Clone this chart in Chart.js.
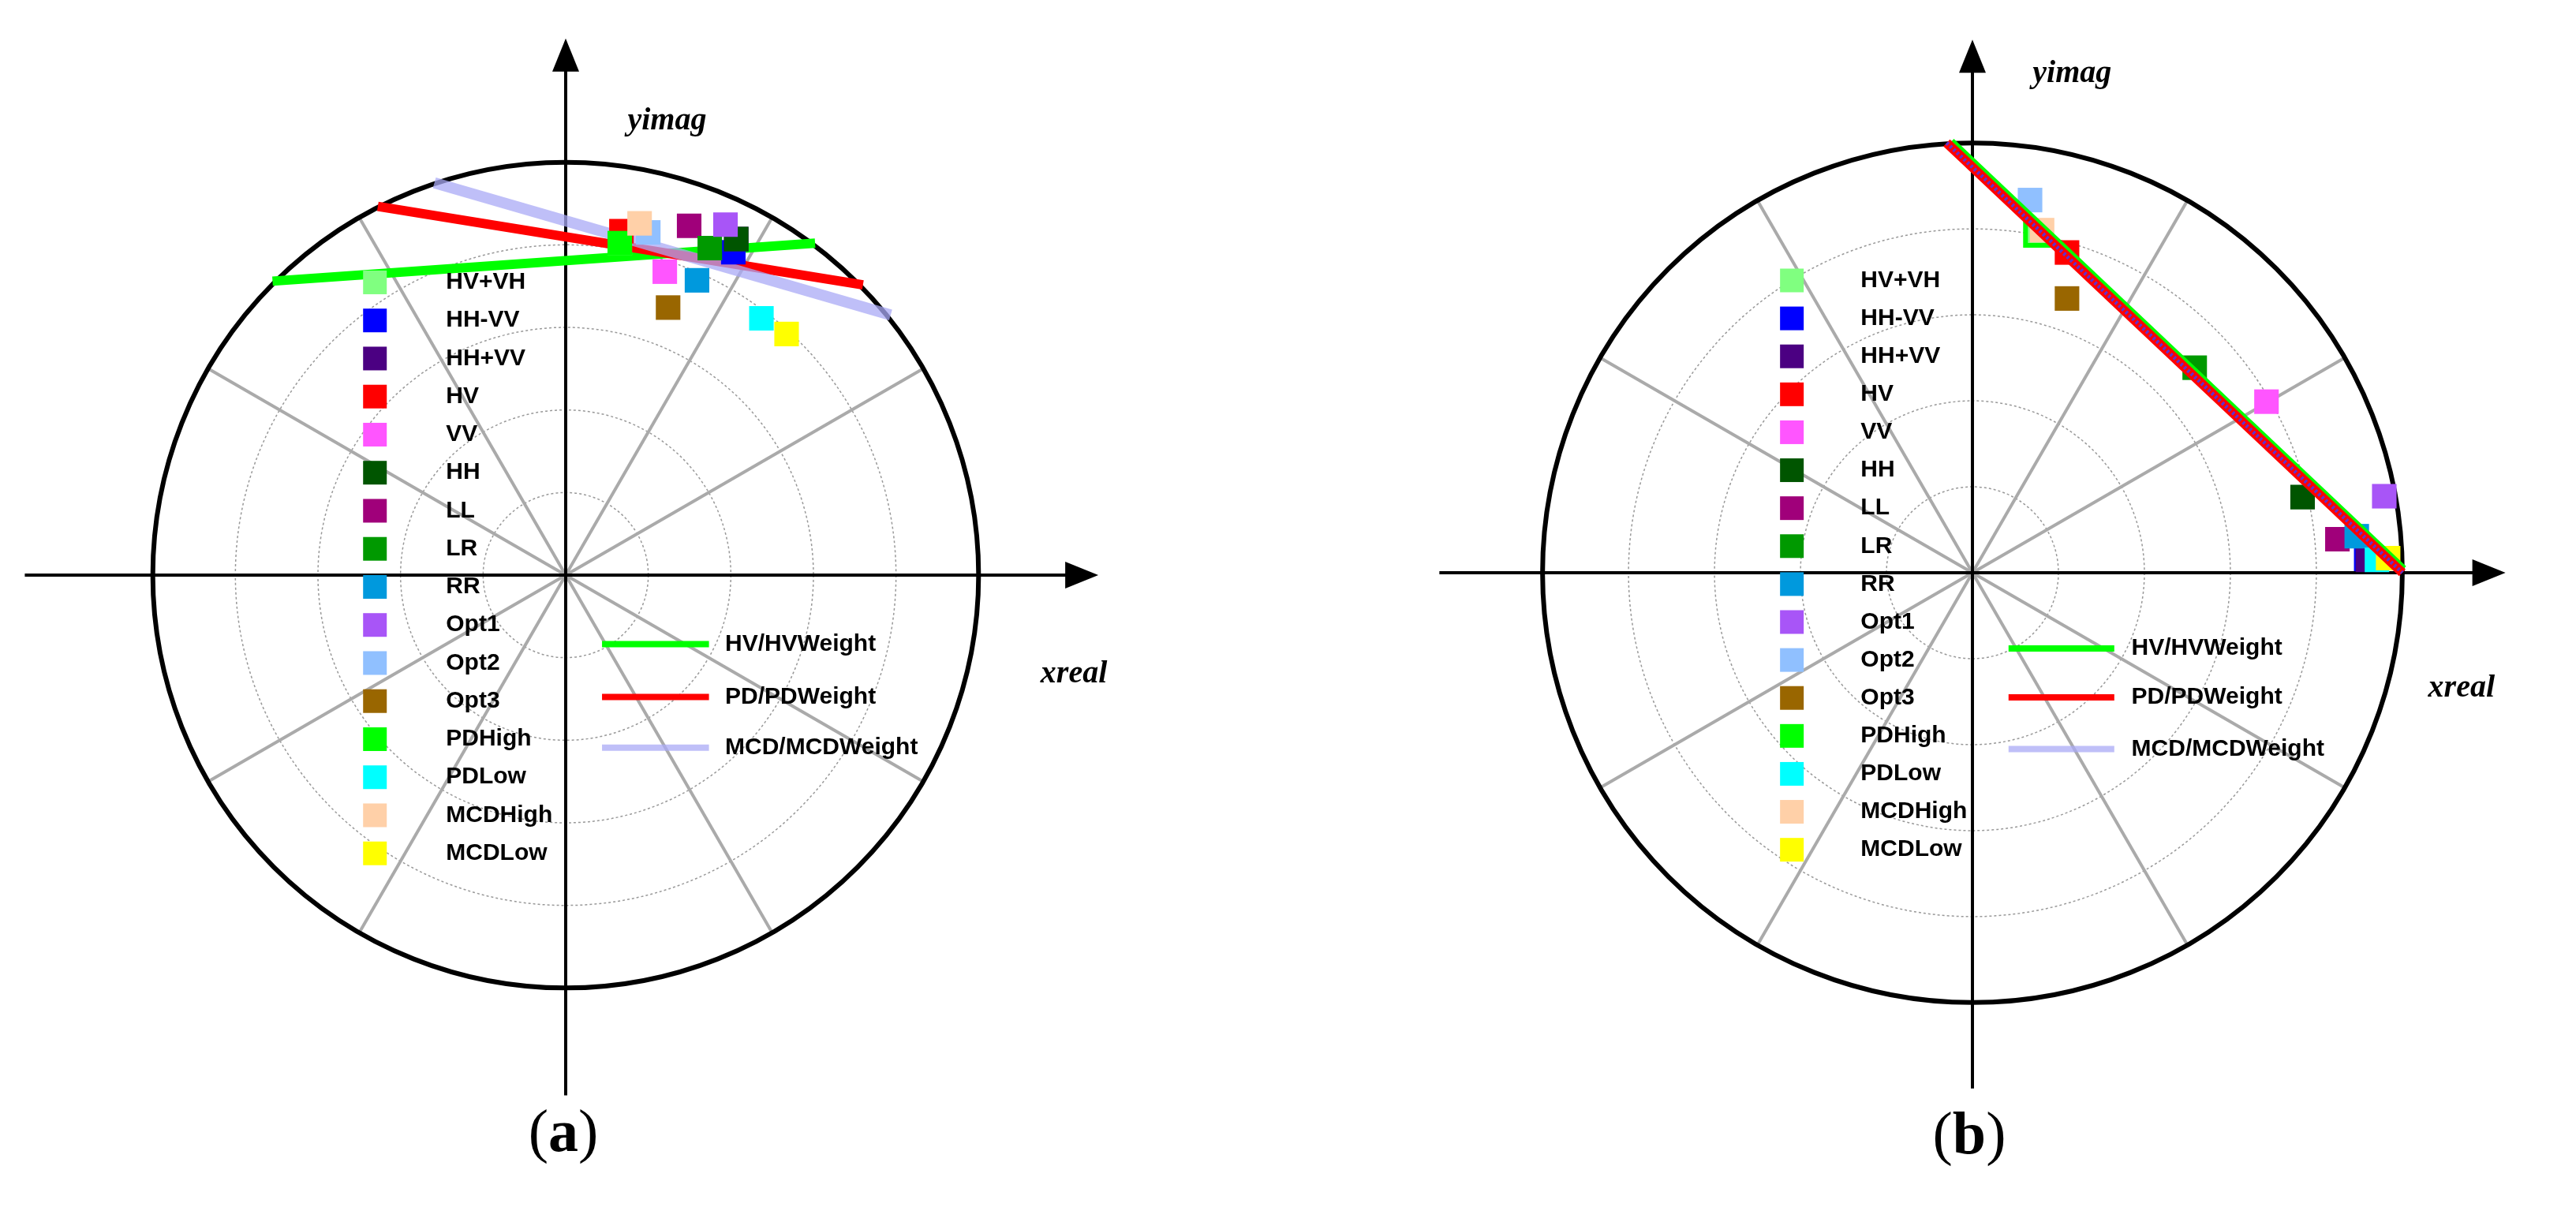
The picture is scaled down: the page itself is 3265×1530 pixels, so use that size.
<!DOCTYPE html>
<html><head><meta charset="utf-8">
<script src="https://cdn.jsdelivr.net/npm/chart.js@4"></script>
<style>
body{margin:0;background:#fff;width:3265px;height:1530px;overflow:hidden;position:relative;font-family:"Liberation Serif",serif}
.cw{position:absolute}
.lab{position:absolute;font-family:"Liberation Serif",serif;font-size:76px;transform:translateX(-50%)}
</style></head><body>
<div class="cw" id="wa" style="left:11px;top:23px;width:1412px;height:1412px"><canvas id="ca"></canvas></div>
<div class="cw" id="wb" style="left:1792px;top:18px;width:1416px;height:1416px"><canvas id="cb"></canvas></div>
<div class="lab" style="left:714px;top:1390px">(<b>a</b>)</div>
<div class="lab" style="left:2496px;top:1393px">(<b>b</b>)</div>
<script>
const categories=["HV+VH","HH-VV","HH+VV","HV","VV","HH","LL","LR","RR","Opt1","Opt2","Opt3","PDHigh","PDLow","MCDHigh","MCDLow"];
const colors=["#80ff80","#0000ff","#4b0082","#ff0000","#ff55ff","#005500","#a0007a","#009900","#0099dd","#a855f7","#90c0ff","#996600","#00ff00","#00ffff","#ffd0a8","#ffff00"];
const aX=[0.131,0.406,0.413,0.135,0.240,0.413,0.299,0.349,0.318,0.387,0.20,0.248,0.131,0.474,0.179,0.535];
const aY=[0.804,0.782,0.814,0.833,0.735,0.814,0.846,0.792,0.714,0.849,0.83,0.648,0.804,0.622,0.852,0.584];
const bX=[0.152,0.916,0.92,0.22,0.684,0.768,0.849,0.517,0.894,0.958,0.134,0.22,0.152,0.941,0.162,0.967];
const bY=[0.79,0.032,0.03,0.745,0.398,0.176,0.078,0.477,0.085,0.178,0.867,0.638,0.79,0.03,0.797,0.034];
const lineNames=["HV/HVWeight","PD/PDWeight","MCD/MCDWeight"];
const lineColors=["#00ff00","#ff0000","rgba(170,170,245,0.75)"];
const aLinesX=[[-0.71,0.604],[-0.455,0.72],[-0.318,0.787]];
const aLinesY=[[0.712,0.804],[0.893,0.703],[0.95,0.63]];
const bLinesX=[[-0.052,1.0],[-0.06,1.0],[-0.06,1.0]];
const bLinesY=[[1.0,0.006],[1.0,0.0],[1.0,0.0]];
const ringValues=[0.2,0.4,0.6,0.8];

function makeChart(id,px,py,lx,ly,o){
  const ds=[];
  lineNames.forEach((n,i)=>ds.push({type:'line',label:n,data:[{x:lx[i][0],y:ly[i][0]},{x:lx[i][1],y:ly[i][1]}],
    borderColor:o.lc[i],borderWidth:o.lw[i],borderDash:o.dash[i],pointRadius:0,order:o.lineOrder+(2-i),borderCapStyle:'butt'}));
  categories.forEach((c,i)=>{
    const hollow=(o.hollow&&c==="PDHigh");
    ds.push({type:'scatter',label:c,data:[{x:px[i],y:py[i]}],pointStyle:'rect',pointRadius:o.pr,
      backgroundColor:hollow?'rgba(0,0,0,0)':colors[i],borderColor:colors[i],borderWidth:hollow?6:0,order:o.ptOrder+(15-i)*0.01});
  });
  const R=o.range;
  const bg={id:'bg',beforeDatasetsDraw(ch){
    const c=ch.ctx,xs=ch.scales.x,ys=ch.scales.y;
    const cx=xs.getPixelForValue(0),cy=ys.getPixelForValue(0),r=xs.getPixelForValue(1)-cx;
    c.save();
    c.strokeStyle='#999';c.lineWidth=1.5;c.setLineDash([3,3]);
    ringValues.forEach(v=>{c.beginPath();c.arc(cx,cy,r*v,0,Math.PI*2);c.stroke();});
    c.setLineDash([]);c.strokeStyle='#aaa';c.lineWidth=4;
    for(let k=0;k<12;k++){if(k%3===0)continue;const a=k*Math.PI/6;c.beginPath();c.moveTo(cx,cy);c.lineTo(cx+r*Math.cos(a),cy-r*Math.sin(a));c.stroke();}
    c.strokeStyle='#000';c.lineWidth=6;c.beginPath();c.arc(cx,cy,r,0,Math.PI*2);c.stroke();
    c.lineWidth=4;
    const ax=o.axes;
    const x0=xs.getPixelForValue(ax[0]),x1=xs.getPixelForValue(ax[1]),y1=ys.getPixelForValue(ax[2]),y0=ys.getPixelForValue(ax[3]);
    c.beginPath();c.moveTo(x0,cy);c.lineTo(x1-30,cy);c.moveTo(cx,y0);c.lineTo(cx,y1+30);c.stroke();
    c.fillStyle='#000';
    c.beginPath();c.moveTo(x1,cy);c.lineTo(x1-42,cy-17);c.lineTo(x1-42,cy+17);c.closePath();c.fill();
    c.beginPath();c.moveTo(cx,y1);c.lineTo(cx-17,y1+42);c.lineTo(cx+17,y1+42);c.closePath();c.fill();
    c.restore();
  }};
  const fg={id:'fg',afterDraw(ch){
    const c=ch.ctx,xs=ch.scales.x,ys=ch.scales.y;
    const P=(x,y)=>[xs.getPixelForValue(x),ys.getPixelForValue(y)];
    c.save();
    c.font='italic bold 40px "Liberation Serif"';c.fillStyle='#000';c.textBaseline='middle';c.textAlign='left';
    let p=P(o.ylab[0],o.ylab[1]);c.fillText('yimag',p[0],p[1]);
    p=P(o.xlab[0],o.xlab[1]);c.fillText('xreal',p[0],p[1]);
    c.font='bold 30px "Liberation Sans"';
    const L=o.leg;
    categories.forEach((n,i)=>{
      const y=L.y0-i*L.dy;const q=P(L.mx,y);
      c.fillStyle=colors[i];c.fillRect(q[0]-15,q[1]-15,30,30);
      const t=P(L.tx,y);c.fillStyle='#000';c.fillText(n,t[0],t[1]);
    });
    lineNames.forEach((n,i)=>{
      const y=o.ll.y[i];const a=P(o.ll.x0,y),b=P(o.ll.x1,y);
      c.strokeStyle=lineColors[i];c.lineWidth=8;c.beginPath();c.moveTo(a[0],a[1]);c.lineTo(b[0],b[1]);c.stroke();
      const t=P(o.ll.tx,y);c.fillStyle='#000';c.fillText(n,t[0],t[1]);
    });
    c.restore();
  }};
  new Chart(document.getElementById(id),{data:{datasets:ds},plugins:[bg,fg],
    options:{responsive:true,maintainAspectRatio:false,animation:false,layout:{padding:0},
      plugins:{legend:{display:false},tooltip:{enabled:false}},
      scales:{x:{type:'linear',min:-R,max:R,display:false},y:{type:'linear',min:-R,max:R,display:false}}}});
}
makeChart('ca',aX,aY,aLinesX,aLinesY,{range:1.307,pr:22,lw:[12,12,14],lc:lineColors,dash:[[],[],[]],hollow:false,lineOrder:2,ptOrder:0,
  axes:[-1.31,1.29,1.30,-1.26],ylab:[0.15,1.1],xlab:[1.15,-0.24],
  leg:{mx:-0.462,tx:-0.29,y0:0.709,dy:0.0922},ll:{x0:0.088,x1:0.347,tx:0.386,y:[-0.167,-0.295,-0.418]}});
makeChart('cb',bX,bY,bLinesX,bLinesY,{range:1.248,pr:22,lw:[14,12,5],lc:["#00ff00","#ff0000","rgba(60,60,255,0.8)"],dash:[[],[],[3,3]],hollow:true,lineOrder:0,ptOrder:5,
  axes:[-1.24,1.24,1.24,-1.2],ylab:[0.14,1.16],xlab:[1.06,-0.27],
  leg:{mx:-0.42,tx:-0.26,y0:0.68,dy:0.0883},ll:{x0:0.084,x1:0.33,tx:0.37,y:[-0.176,-0.29,-0.41]}});
</script></body></html>
